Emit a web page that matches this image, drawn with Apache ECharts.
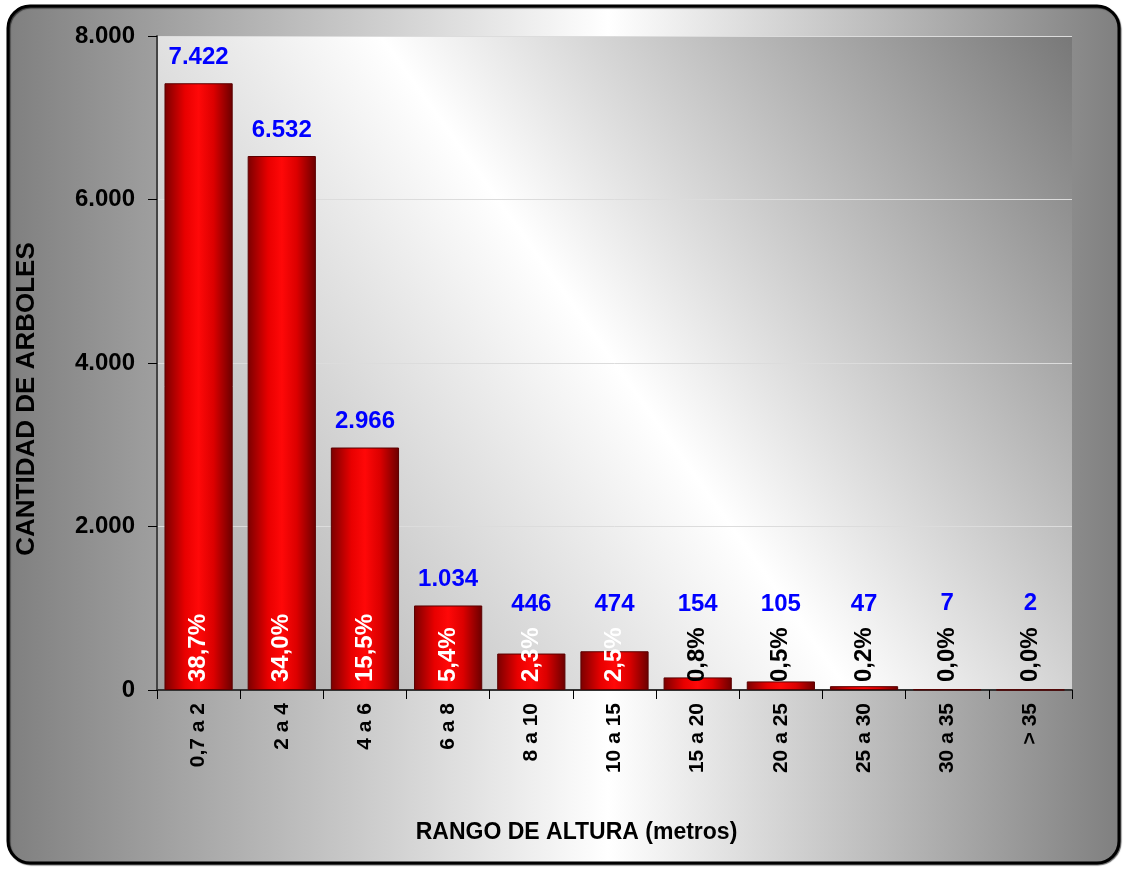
<!DOCTYPE html>
<html>
<head>
<meta charset="utf-8">
<title>Cantidad de árboles por rango de altura</title>
<script src="https://cdn.jsdelivr.net/npm/echarts@6/dist/echarts.min.js"></script>
<style>
  html, body { margin: 0; padding: 0; background: #fff; }
  #chart { width: 1123px; height: 869px; }
</style>
</head>
<body>
<div id="chart"></div>
<script>
  // datos
  const rangos = ['0,7 a 2', '2 a 4', '4 a 6', '6 a 8', '8 a 10', '10 a 15', '15 a 20', '20 a 25', '25 a 30', '30 a 35', '> 35']
  const cantidades = [7422, 6532, 2966, 1034, 446, 474, 154, 105, 47, 7, 2]
  const porcentajes = ['38,7%', '34,0%', '15,5%', '5,4%', '2,3%', '2,5%', '0,8%', '0,5%', '0,2%', '0,0%', '0,0%']
  const yMin = 0
  const yMax = 8000
  const yPaso = 2000

  const FONT = "'Liberation Sans', Arial, sans-serif"
  const grid = { left: 157, right: 51, top: 36, bottom: 179 }
  const altoGrid = 869 - grid.top - grid.bottom
  const pxPorUnidad = altoGrid / (yMax - yMin)

  // 1234 -> 1.234
  function miles (v) {
    return String(v).replace(/\B(?=(\d{3})+(?!\d))/g, '.')
  }

  const rojo = {
    type: 'linear', x: 0, y: 0, x2: 1, y2: 0,
    colorStops: [
      { offset: 0, color: '#7a0000' },
      { offset: 0.3, color: '#e80000' },
      { offset: 0.5, color: '#ff0808' },
      { offset: 0.72, color: '#dc0000' },
      { offset: 1, color: '#6a0000' }
    ]
  }

  const chart = echarts.init(document.getElementById('chart'))
  chart.setOption({
    animation: false,
    textStyle: { fontFamily: FONT },
    graphic: [{
      type: 'rect',
      z: -10,
      silent: true,
      shape: { x: 8, y: 6, width: 1111, height: 857, r: 22 },
      style: {
        fill: {
          type: 'linear', x: 0, y: 0, x2: 1, y2: 0,
          colorStops: [
            { offset: 0, color: '#7f7f7f' },
            { offset: 0.54, color: '#ffffff' },
            { offset: 1, color: '#7f7f7f' }
          ]
        },
        stroke: '#000',
        lineWidth: 3,
        shadowColor: 'rgba(0,0,0,0.6)',
        shadowOffsetX: 1,
        shadowOffsetY: 1,
        shadowBlur: 1
      }
    }],
    grid: {
      left: grid.left,
      right: grid.right,
      top: grid.top,
      bottom: grid.bottom,
      show: true,
      borderWidth: 0,
      backgroundColor: {
        type: 'linear', x: 1, y: 0, x2: 0, y2: 1,
        colorStops: [
          { offset: 0, color: '#787878' },
          { offset: 0.5, color: '#ffffff' },
          { offset: 1, color: '#a2a2a2' }
        ]
      }
    },
    xAxis: {
      type: 'category',
      data: rangos,
      name: 'RANGO DE ALTURA (metros)',
      nameLocation: 'middle',
      nameGap: 131,
      nameTextStyle: {
        fontFamily: FONT, fontSize: 23, fontWeight: 'bold', color: '#000',
        padding: [0, 76, 0, 0]
      },
      axisLine: { lineStyle: { color: '#333', width: 2 } },
      axisTick: { show: true, length: 9, lineStyle: { color: '#000', width: 1 } },
      axisLabel: {
        rotate: 90,
        margin: 13,
        interval: 0,
        fontFamily: FONT,
        fontSize: 21,
        fontWeight: 'bold',
        color: '#000'
      },
      splitLine: { show: false }
    },
    yAxis: {
      type: 'value',
      min: yMin,
      max: yMax,
      interval: yPaso,
      name: 'CANTIDAD DE ARBOLES',
      nameLocation: 'middle',
      nameGap: 117,
      nameTextStyle: {
        fontFamily: FONT, fontSize: 26, fontWeight: 'bold', color: '#000',
        padding: [0, 72, 0, 0]
      },
      axisLine: { show: true, lineStyle: { color: '#444', width: 2 } },
      axisTick: { show: true, length: 9, lineStyle: { color: '#000', width: 1 } },
      axisLabel: {
        margin: 22,
        fontFamily: FONT,
        fontSize: 24,
        fontWeight: 'bold',
        color: '#000',
        formatter: miles
      },
      splitLine: { show: true, lineStyle: { color: '#dcdcdc', width: 1 } }
    },
    series: [
      {
        name: 'Cantidad',
        type: 'bar',
        barCategoryGap: '18%',
        barGap: '-100%',
        itemStyle: { color: rojo, borderColor: '#5a0000', borderWidth: 1 },
        label: {
          show: true,
          position: 'top',
          fontFamily: FONT,
          fontSize: 24,
          fontWeight: 'bold',
          color: '#0000ff',
          formatter: p => miles(p.value)
        },
        // las etiquetas de barras bajas quedan por encima del porcentaje
        data: cantidades.map(v => ({
          value: v,
          label: { distance: Math.max(14, 74 - v * pxPorUnidad) }
        }))
      },
      {
        name: 'Porcentaje',
        type: 'bar',
        silent: true,
        barCategoryGap: '18%',
        barGap: '-100%',
        itemStyle: { color: 'rgba(0,0,0,0)' },
        label: {
          show: true,
          position: 'insideBottom',
          distance: 8,
          rotate: 90,
          align: 'left',
          verticalAlign: 'middle',
          fontFamily: FONT,
          fontSize: 24,
          fontWeight: 'bold',
          formatter: p => porcentajes[p.dataIndex]
        },
        data: cantidades.map(v => ({
          value: v,
          label: { color: v > 300 ? '#fff' : '#000' }
        }))
      }
    ]
  })
</script>
</body>
</html>
